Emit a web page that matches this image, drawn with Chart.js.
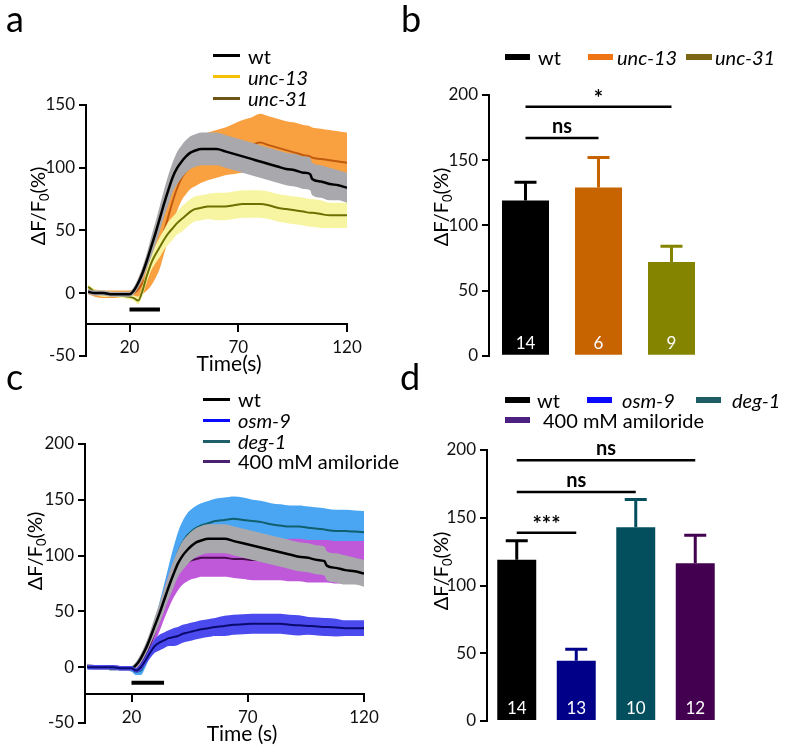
<!DOCTYPE html>
<html>
<head>
<meta charset="utf-8">
<script src="https://cdn.jsdelivr.net/npm/chart.js@4.4.1/dist/chart.umd.min.js"></script>
<style>
    html, body { margin: 0; padding: 0; background: #fff; }
    #fig { position: relative; width: 787px; height: 753px; overflow: hidden; font-family: Lato, "Open Sans", sans-serif; color: #000; }
    canvas { position: absolute; }
    .t { position: absolute; white-space: nowrap; line-height: 1; }
    .c { transform: translate(-50%, -50%); }
    .l { transform: translateY(-50%); }
    .letter { position: absolute; font-size: 36px; line-height: 1; }
    .leg { font-size: 20px; }
    .ytitle { position: absolute; font-size: 20px; line-height: 1; white-space: nowrap; transform: translate(-50%, -50%) rotate(-90deg); }
    .sub { font-size: 13px; position: relative; top: 4px; }
    .sw { position: absolute; }
</style>
</head>
<body>
<div id="fig">
    <canvas id="chart-a" width="390" height="370" style="left:0;top:0"></canvas>
    <canvas id="chart-b" width="397" height="370" style="left:390px;top:0"></canvas>
    <canvas id="chart-c" width="390" height="383" style="left:0;top:370px"></canvas>
    <canvas id="chart-d" width="397" height="383" style="left:390px;top:370px"></canvas>

    <div class="letter" style="left:6px;top:0px">a</div>
    <div class="letter" style="left:401px;top:0px">b</div>
    <div class="letter" style="left:6px;top:358px">c</div>
    <div class="letter" style="left:400px;top:358px">d</div>

    <!-- legend a -->
    <div class="sw" style="left:213px;top:54px;width:27px;height:3px;background:#000"></div>
    <div class="sw" style="left:213px;top:75px;width:27px;height:3px;background:#f7c000"></div>
    <div class="sw" style="left:213px;top:97px;width:27px;height:3px;background:#6d5516"></div>
    <div class="t l leg" style="left:248px;top:56px">wt</div>
    <div class="t l leg" style="left:248px;top:77px"><i>unc-13</i></div>
    <div class="t l leg" style="left:248px;top:98px"><i>unc-31</i></div>

    <!-- legend b -->
    <div class="sw" style="left:505px;top:54px;width:25px;height:6px;background:#000"></div>
    <div class="sw" style="left:588px;top:54px;width:25px;height:6px;background:#ee7414"></div>
    <div class="sw" style="left:686px;top:54px;width:26px;height:6px;background:#7a6614"></div>
    <div class="t l leg" style="left:538px;top:57px">wt</div>
    <div class="t l leg" style="left:617px;top:57px"><i>unc-13</i></div>
    <div class="t l leg" style="left:715px;top:57px"><i>unc-31</i></div>

    <!-- legend c -->
    <div class="sw" style="left:203px;top:398px;width:27px;height:3px;background:#000"></div>
    <div class="sw" style="left:203px;top:419px;width:27px;height:3px;background:#0a0aff"></div>
    <div class="sw" style="left:203px;top:440px;width:27px;height:3px;background:#1f5f6a"></div>
    <div class="sw" style="left:203px;top:460px;width:27px;height:3px;background:#4a2070"></div>
    <div class="t l leg" style="left:238px;top:399px">wt</div>
    <div class="t l leg" style="left:238px;top:420px"><i>osm-9</i></div>
    <div class="t l leg" style="left:238px;top:441px"><i>deg-1</i></div>
    <div class="t l leg" style="left:238px;top:461px">400 mM amiloride</div>

    <!-- legend d -->
    <div class="sw" style="left:505px;top:397px;width:25px;height:6px;background:#000"></div>
    <div class="sw" style="left:587px;top:397px;width:25px;height:6px;background:#0a0aff"></div>
    <div class="sw" style="left:696px;top:397px;width:25px;height:6px;background:#1e5c66"></div>
    <div class="sw" style="left:505px;top:417px;width:25px;height:6px;background:#4b2080"></div>
    <div class="t l leg" style="left:537px;top:400px">wt</div>
    <div class="t l leg" style="left:622px;top:400px"><i>osm-9</i></div>
    <div class="t l leg" style="left:732px;top:400px"><i>deg-1</i></div>
    <div class="t l leg" style="left:543px;top:420px">400 mM amiloride</div>

    <!-- axis titles -->
    <div class="ytitle" style="left:37px;top:206px">ΔF/F<span class="sub">0</span>(%)</div>
    <div class="ytitle" style="left:440px;top:207px">ΔF/F<span class="sub">0</span>(%)</div>
    <div class="ytitle" style="left:34px;top:551px">ΔF/F<span class="sub">0</span>(%)</div>
    <div class="ytitle" style="left:440px;top:571px">ΔF/F<span class="sub">0</span>(%)</div>
    <div class="t c" style="left:229px;top:362px;font-size:21px">Time(s)</div>
    <div class="t c" style="left:242px;top:732px;font-size:21px">Time (s)</div>
</div>

<script>
// time courses (s) and mean / SEM of ΔF/F0 (%)
const timeS = [1, 4, 8, 12, 16, 20, 22, 24, 26, 28, 30, 32, 34, 36, 38, 40, 42, 44, 46, 48, 50, 53, 56, 60, 64, 68, 72, 76, 80, 84, 88, 92, 96, 100, 103, 104, 108, 112, 116, 120];

const wtMean = [1, 0, 0, -1, -1, -1, 2, 8, 16, 26, 37, 48, 60, 72, 83, 93, 100, 105, 109, 112, 113.5, 115, 115, 115, 113, 111, 109, 107, 105, 103, 101, 99, 98, 96, 95, 91, 89, 87, 86, 84];
const wtSem = [2, 2, 2, 2, 2, 2, 3, 4, 5, 6, 8, 9, 10, 11, 12, 12, 13, 13, 13, 13, 13, 13, 13, 13, 13, 13, 13, 13, 13, 13, 13, 13, 13, 13, 13, 13, 13, 13, 12, 12];

const unc13Mean = [2, 0, -1, -1, -1, -1, 0, 3, 8, 14, 21, 29, 38, 50, 62, 74, 84, 92, 97, 101, 104, 107, 109, 111, 113, 115, 117, 118, 120, 118, 116, 114, 112, 110, 109, 108, 107, 106, 105, 104];
const unc13Sem = [3, 3, 3, 3, 3, 3, 4, 6, 9, 12, 15, 17, 18, 18, 18, 18, 18, 18, 18, 18, 19, 19, 19, 19, 19, 20, 21, 22, 23, 23, 23, 23, 24, 24, 24, 24, 24, 24, 24, 24];

const unc31Mean = [5, 1, -1, -1, -2, -3, -4, -6, 2, 14, 24, 31, 37, 43, 48, 52, 56, 59, 62, 65, 67, 68, 69, 69, 69, 70, 71, 71, 71, 70, 68, 67, 66, 65, 64, 64, 63, 62, 62, 62];
const unc31Sem = [2, 2, 2, 2, 2, 2, 2, 3, 4, 5, 6, 7, 8, 8, 9, 9, 9, 10, 10, 10, 10, 10, 10, 11, 11, 11, 11, 11, 11, 11, 11, 11, 11, 11, 11, 11, 11, 10, 10, 10];

const deg1Mean = [0, 0, 0, -1, -1, -2, -4, -3, 6, 18, 32, 46, 60, 75, 90, 103, 112, 118, 122, 125, 127, 129, 131, 132, 133, 132, 131, 130, 128, 127, 126, 126, 125, 124, 123.5, 123, 122, 122, 121.5, 121];
const deg1Sem = [2, 2, 2, 2, 2, 2, 3, 4, 6, 8, 10, 12, 14, 16, 17, 18, 19, 20, 20, 20, 20, 20, 20, 20, 20, 20, 19, 19, 19, 19, 19, 19, 19, 19, 19, 19, 19, 19, 19, 19];

const amilMean = [1, 0, 0, 0, -1, -1, -2, 2, 10, 20, 31, 43, 56, 68, 78, 86, 91, 94, 96, 97, 98, 98, 98, 98, 97, 97, 96, 96, 96, 96, 96, 96, 95, 95, 95, 95, 94, 94, 94, 94];
const amilSem = [2, 2, 2, 2, 2, 2, 2, 3, 5, 7, 9, 11, 13, 15, 16, 17, 17, 17, 17, 17, 17, 17, 17, 17, 17, 18, 18, 18, 18, 18, 19, 19, 19, 19, 19, 19, 19, 19, 19, 19];

const osm9Mean = [0, 0, 0, 0, -1, -1, -3, 0, 6, 13, 19, 22, 24, 26, 27, 28, 30, 31, 32, 33, 34, 35, 36, 37, 38, 38.5, 39, 39, 39, 39, 38, 37.5, 37, 36.5, 36, 36, 35.5, 35, 35, 35];
const osm9Sem = [2, 2, 2, 2, 2, 2, 2, 3, 4, 5, 6, 7, 7, 7, 8, 8, 8, 8, 8, 8, 8, 8, 8, 9, 9, 9, 9, 9, 9, 9, 9, 9, 8, 8, 8, 8, 8, 7, 7, 7];

// stimulus bar (s) and its level on the y axis
const stimOn = 20;
const stimOff = 34;
const stimLevelA = -13;
const stimLevelC = -14;

// peak responses
const groupsB = ['wt', 'unc-13', 'unc-31'];
const meanB = [119, 129, 72];
const semB = [14, 23, 12];
const countB = [14, 6, 9];

const groupsD = ['wt', 'osm-9', 'deg-1', '400 mM amiloride'];
const meanD = [119, 44.5, 143, 116.5];
const semD = [14, 8.5, 20.5, 20.5];
const countD = [14, 13, 10, 12];

// comparisons: [from, to, level, label]
const sigB = [[0, 2, 191, '*'], [0, 1, 167, 'ns']];
const sigD = [[0, 3, 192.5, 'ns'], [0, 2, 169, 'ns'], [0, 1, 139, '***']];

// ticks
const xTicks = [20, 70, 120];
const yTicksA = [-50, 0, 50, 100, 150];
const yTicksB = [0, 50, 100, 150, 200];
const yTicksC = [-50, 0, 50, 100, 150, 200];
const yTicksD = [0, 50, 100, 150, 200];

const FONT = 'Lato, "Open Sans", sans-serif';
Chart.defaults.font.family = FONT;
Chart.defaults.color = '#111';

function yAxis(ticks, width) {
    return {
        min: ticks[0],
        max: ticks[ticks.length - 1],
        afterBuildTicks: s => { s.ticks = ticks.map(v => ({ value: v })); },
        afterFit: s => { s.width = width; },
        border: { display: true, color: '#000', width: 2 },
        grid: { drawOnChartArea: false, drawTicks: true, tickLength: 7, lineWidth: 2, color: '#000' },
        ticks: { font: { size: 17 }, padding: 4 }
    };
}

function xAxis(level) {
    return {
        type: 'linear',
        min: 0,
        max: 120,
        position: { y: level },
        afterBuildTicks: s => { s.ticks = xTicks.map(v => ({ value: v })); },
        border: { display: true, color: '#000', width: 2 },
        grid: { drawOnChartArea: false, drawTicks: true, tickLength: 7, lineWidth: 2, color: '#000' },
        ticks: { font: { size: 17 }, padding: 6, maxRotation: 0, autoSkip: false }
    };
}

// band (mean ± SEM) plus mean line; lower order = drawn on top
function trace(mean, sem, bandColor, lineColor, lineWidth, order) {
    const common = { pointRadius: 0, cubicInterpolationMode: 'monotone', borderColor: 'rgba(0,0,0,0)', borderWidth: 0 };
    return [
        { ...common, data: timeS.map((t, i) => ({ x: t, y: mean[i] + sem[i] })), backgroundColor: bandColor, fill: '+1', order: order + 1 },
        { ...common, data: timeS.map((t, i) => ({ x: t, y: mean[i] - sem[i] })), fill: false, order: order + 1 },
        { ...common, data: timeS.map((t, i) => ({ x: t, y: mean[i] })), borderColor: lineColor, borderWidth: lineWidth, fill: false, order: order }
    ];
}

function stimulus(level) {
    return {
        data: [{ x: stimOn, y: level }, { x: stimOff, y: level }],
        borderColor: '#000', borderWidth: 4, pointRadius: 0, fill: false, order: -1, borderCapStyle: 'butt'
    };
}

function traceChart(id, datasets, yTicks, xLevel, axisWidth, padding) {
    new Chart(document.getElementById(id), {
        type: 'line',
        data: { datasets },
        options: {
            responsive: false,
            animation: false,
            devicePixelRatio: 1,
            layout: { padding },
            plugins: { legend: { display: false }, tooltip: { enabled: false } },
            scales: { x: xAxis(xLevel), y: yAxis(yTicks, axisWidth) }
        }
    });
}

// error bars, n inside the bars and significance brackets
function barExtras(means, sems, counts, colors, sig) {
    return {
        id: 'barExtras',
        afterDatasetsDraw(chart) {
            const { ctx } = chart;
            const y = chart.scales.y;
            const bars = chart.getDatasetMeta(0).data;
            ctx.save();
            ctx.lineCap = 'butt';
            bars.forEach((bar, i) => {
                const top = y.getPixelForValue(means[i] + sems[i]);
                ctx.strokeStyle = colors[i];
                ctx.lineWidth = 3;
                ctx.beginPath();
                ctx.moveTo(bar.x, bar.y);
                ctx.lineTo(bar.x, top);
                ctx.moveTo(bar.x - 11, top);
                ctx.lineTo(bar.x + 11, top);
                ctx.stroke();

                ctx.fillStyle = '#fff';
                ctx.font = '17px ' + FONT;
                ctx.textAlign = 'center';
                ctx.textBaseline = 'middle';
                ctx.fillText(String(counts[i]), bar.x, y.getPixelForValue(0) - 12);
            });
            sig.forEach(([from, to, level, label]) => {
                const x1 = bars[from].x;
                const x2 = bars[to].x;
                const yy = y.getPixelForValue(level);
                ctx.strokeStyle = '#000';
                ctx.lineWidth = 2.5;
                ctx.beginPath();
                ctx.moveTo(x1, yy);
                ctx.lineTo(x2, yy);
                ctx.stroke();
                const star = label.indexOf('*') >= 0;
                ctx.fillStyle = '#000';
                ctx.font = 'bold ' + (star ? 22 : 20) + 'px ' + FONT;
                ctx.textAlign = 'center';
                ctx.textBaseline = 'alphabetic';
                ctx.fillText(label, (x1 + x2) / 2, yy - (star ? 1 : 5));
            });
            ctx.restore();
        }
    };
}

function barChart(id, labels, means, sems, counts, colors, yTicks, axisWidth, padding, barPct, sig) {
    new Chart(document.getElementById(id), {
        type: 'bar',
        data: {
            labels,
            datasets: [{ data: means, backgroundColor: colors, barPercentage: barPct, categoryPercentage: 1 }]
        },
        options: {
            responsive: false,
            animation: false,
            devicePixelRatio: 1,
            layout: { padding },
            plugins: { legend: { display: false }, tooltip: { enabled: false } },
            scales: { x: { display: false }, y: yAxis(yTicks, axisWidth) }
        },
        plugins: [barExtras(means, sems, counts, colors, sig)]
    });
}

traceChart('chart-a', [
    stimulus(stimLevelA),
    ...trace(wtMean, wtSem, '#a9a9ad', '#000', 2.5, 0),
    ...trace(unc31Mean, unc31Sem, '#f8f5a2', '#6b7000', 2, 4),
    ...trace(unc13Mean, unc13Sem, '#f9a040', '#c05a10', 2, 8)
], yTicksA, -25, 86, { left: 0, top: 105, right: 43, bottom: 10 });

traceChart('chart-c', [
    stimulus(stimLevelC),
    ...trace(osm9Mean, osm9Sem, '#4a4aee', '#0a0a6e', 2, 0),
    ...trace(wtMean, wtSem, '#a9a9ad', '#000', 2.5, 4),
    ...trace(amilMean, amilSem, '#c058da', '#4a0a50', 2, 8),
    ...trace(deg1Mean, deg1Sem, '#4aa6f2', '#0f5f6e', 2, 12)
], yTicksC, -24, 85, { left: 0, top: 74, right: 26, bottom: 30 });

barChart('chart-b', groupsB, meanB, semB, countB, ['#000000', '#c86400', '#848400'],
    yTicksB, 99, { left: 0, top: 95, right: 79, bottom: 14 }, 0.644, sigB);

barChart('chart-d', groupsD, meanD, semD, countD, ['#000000', '#000088', '#034f5e', '#440050'],
    yTicksD, 97, { left: 0, top: 80, right: 62, bottom: 32 }, 0.655, sigD);
</script>
</body>
</html>
